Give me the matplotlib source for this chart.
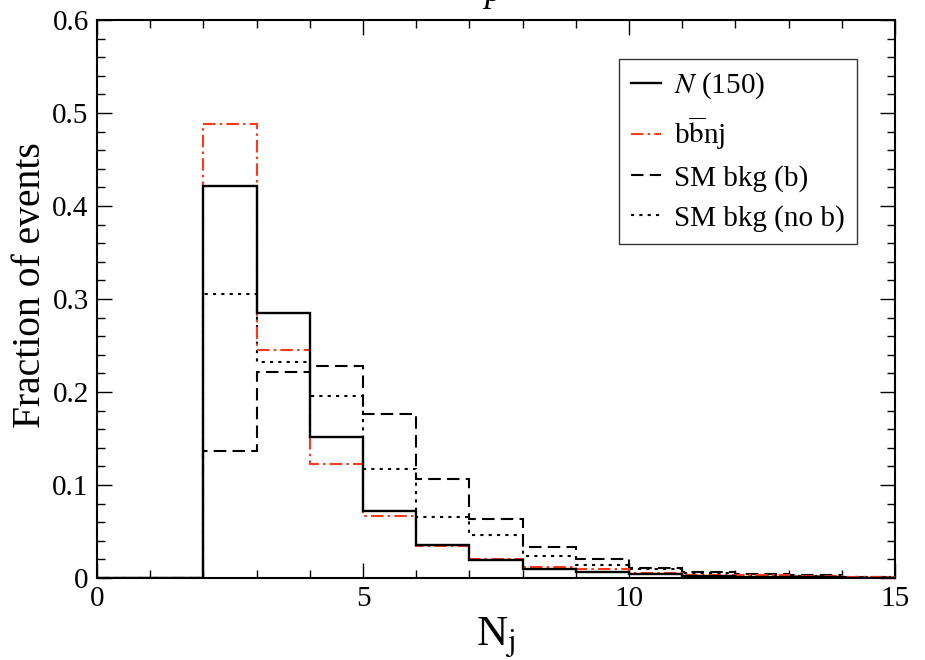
import numpy as np
import matplotlib
matplotlib.use("Agg")
import matplotlib.pyplot as plt
from matplotlib.ticker import MultipleLocator, FixedLocator

plt.rcParams['font.family'] = ['Liberation Serif', 'DejaVu Serif']
plt.rcParams['mathtext.fontset'] = 'stix'

# jet multiplicity bins, N_j = 0 .. 15
edges = np.arange(0, 16)

# fraction of events per bin
frac_N150 = [0, 0, 0.422, 0.285, 0.152, 0.072, 0.036, 0.019, 0.010, 0.006, 0.004, 0.002, 0.001, 0.001, 0.0005]
frac_bbnj = [0, 0, 0.488, 0.245, 0.123, 0.067, 0.034, 0.020, 0.012, 0.010, 0.005, 0.003, 0.003, 0.002, 0.001]
frac_smb = [0, 0, 0.137, 0.222, 0.228, 0.176, 0.106, 0.064, 0.033, 0.020, 0.011, 0.006, 0.004, 0.003, 0.001]
frac_smnob = [0, 0, 0.305, 0.232, 0.196, 0.117, 0.066, 0.046, 0.024, 0.014, 0.010, 0.005, 0.003, 0.002, 0.001]

labels = [r'$N$ (150)', r'b$\overline{\mathrm{b}}$nj', 'SM bkg (b)', 'SM bkg (no b)']

fig = plt.figure(figsize=(9.25, 6.6), dpi=100)
ax = fig.add_axes([0.1049, 0.1242, 0.8627, 0.8455])

ax.stairs(frac_smnob, edges, color='black', lw=1.5, ls=(0, (1.5, 2.5)), label=labels[3], zorder=2)
ax.stairs(frac_smb, edges, color='black', lw=1.5, ls=(0, (6, 3)), label=labels[2], zorder=2)
ax.stairs(frac_bbnj, edges, color='#ff3a1a', lw=1.5, ls=(0, (6, 2, 1.2, 2)), label=labels[1], zorder=3)
ax.stairs(frac_N150, edges, color='black', lw=1.7, ls='-', label=labels[0], zorder=4)

ax.set_xlim(0, 15)
ax.set_ylim(0, 0.6)
ax.xaxis.set_major_locator(FixedLocator([0, 5, 10, 15]))
ax.set_xticklabels(['0', '5', '10', '15'])
ax.xaxis.set_minor_locator(MultipleLocator(1))
ax.yaxis.set_major_locator(FixedLocator([0, 0.1, 0.2, 0.3, 0.4, 0.5, 0.6]))
ax.set_yticklabels(['0', '0.1', '0.2', '0.3', '0.4', '0.5', '0.6'])
ax.yaxis.set_minor_locator(MultipleLocator(0.02))
ax.tick_params(which='both', direction='in', top=True, right=True, labelsize=21, width=1.0, pad=6)
ax.tick_params(which='major', length=11)
ax.tick_params(which='minor', length=6)
for s in ax.spines.values():
    s.set_linewidth(1.5)

ax.set_xlabel(r'N$_\mathrm{j}$', fontsize=31, labelpad=2)
ax.set_ylabel('Fraction of events', fontsize=28.5)
ax.yaxis.set_label_coords(-0.060, 0.525)

h, l = ax.get_legend_handles_labels()
order = [3, 2, 1, 0]
leg = ax.legend([h[i] for i in order], [l[i] for i in order], loc='upper right',
                bbox_to_anchor=(0.952, 0.930), borderaxespad=0, fontsize=21, frameon=True,
                fancybox=False, edgecolor='black', handlelength=1.05, handletextpad=0.45,
                labelspacing=0.45, borderpad=0.4)
leg.get_frame().set_linewidth(1.0)

# title sits above the frame and is mostly clipped by the figure edge
fig.text(0.533, 1.012, 'p', style='italic', fontsize=26, ha='center', va='center')

fig.savefig('out.png', dpi=100)
